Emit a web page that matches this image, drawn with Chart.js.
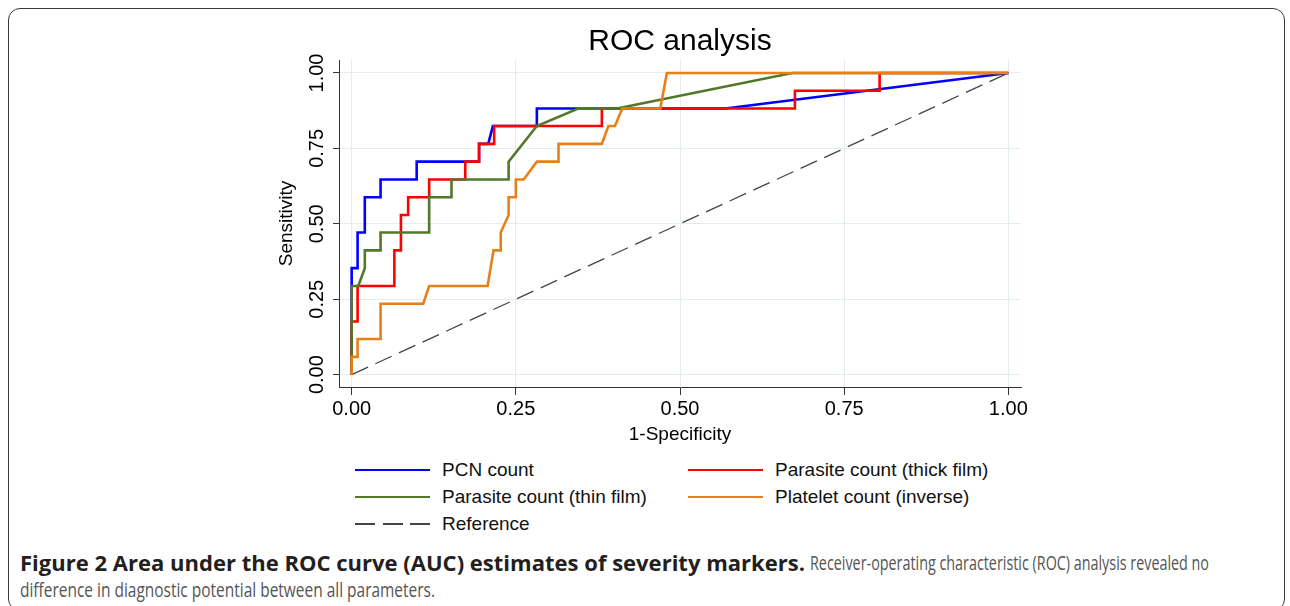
<!DOCTYPE html>
<html>
<head>
<meta charset="utf-8">
<title>ROC analysis</title>
<script src="https://cdn.jsdelivr.net/npm/chart.js@4.4.0/dist/chart.umd.min.js"></script>
<style>
  body { margin: 0; background: #fff; width: 1290px; height: 606px; overflow: hidden; position: relative;
         font-family: Arial, "Liberation Sans", sans-serif; }
  #frame { position: absolute; left: 8px; top: 8px; width: 1277px; height: 603px; box-sizing: border-box;
           border: 1.5px solid #3a3a3a; border-radius: 12px; }
  #chart { position: absolute; left: 0; top: 0; }
  .item { position: absolute; font-size: 19px; line-height: 22px; color: #111; white-space: nowrap; }
  .swatch { position: absolute; width: 75px; height: 2.5px; }
  .cap { position: absolute; font-family: "Open Sans", sans-serif; font-size: 20px; line-height: 24px;
         color: #555; white-space: nowrap; transform-origin: 0 50%; }
  .cap.bold { color: #231f20; font-weight: 700; font-size: 21px; }
</style>
</head>
<body>
<div id="frame"></div>
<canvas id="chart" width="1290" height="450"></canvas>
<div id="legend"></div>
<div class="cap bold" data-w="785" style="left:20px;top:551px">Figure 2 Area under the ROC curve (AUC) estimates of severity markers.</div>
<div class="cap" data-w="399" style="left:810px;top:551px">Receiver-operating characteristic (ROC) analysis revealed no</div>
<div class="cap" data-w="415" style="left:20px;top:578px">difference in diagnostic potential between all parameters.</div>
<script>
// 1-specificity / sensitivity vertices
const pcnX = [0, 0, 0.009, 0.009, 0.020, 0.020, 0.044, 0.044, 0.099, 0.099, 0.194, 0.194, 0.208, 0.215, 0.282, 0.282, 0.569, 1];
const pcnY = [0, 0.353, 0.353, 0.471, 0.471, 0.588, 0.588, 0.647, 0.647, 0.706, 0.706, 0.765, 0.765, 0.824, 0.824, 0.882, 0.882, 1];

const thickX = [0, 0, 0.009, 0.009, 0.065, 0.065, 0.075, 0.075, 0.086, 0.086, 0.118, 0.118, 0.173, 0.173, 0.194, 0.194, 0.217, 0.217, 0.381, 0.381, 0.675, 0.675, 0.804, 0.804, 1];
const thickY = [0, 0.176, 0.176, 0.294, 0.294, 0.412, 0.412, 0.529, 0.529, 0.588, 0.588, 0.647, 0.647, 0.706, 0.706, 0.765, 0.765, 0.824, 0.824, 0.882, 0.882, 0.941, 0.941, 1, 1];

const thinX = [0, 0, 0.010, 0.020, 0.020, 0.044, 0.044, 0.118, 0.118, 0.152, 0.152, 0.239, 0.239, 0.282, 0.345, 0.404, 0.671, 1];
const thinY = [0, 0.294, 0.294, 0.353, 0.412, 0.412, 0.471, 0.471, 0.588, 0.588, 0.647, 0.647, 0.706, 0.824, 0.882, 0.882, 1, 1];

const plateletX = [0, 0, 0.009, 0.009, 0.044, 0.044, 0.109, 0.118, 0.207, 0.216, 0.227, 0.227, 0.239, 0.239, 0.250, 0.250, 0.262, 0.282, 0.315, 0.315, 0.381, 0.391, 0.401, 0.412, 0.470, 0.480, 1];
const plateletY = [0, 0.059, 0.059, 0.118, 0.118, 0.235, 0.235, 0.294, 0.294, 0.412, 0.412, 0.471, 0.529, 0.588, 0.588, 0.647, 0.647, 0.706, 0.706, 0.765, 0.765, 0.824, 0.824, 0.882, 0.882, 1, 1];

const refX = [0, 1];
const refY = [0, 1];

const seriesNames = ['PCN count', 'Parasite count (thick film)', 'Parasite count (thin film)', 'Platelet count (inverse)', 'Reference'];
const seriesColors = ['#0000ff', '#ff0000', '#52782a', '#e8801a', '#444444'];

const xTicks = [0, 0.25, 0.5, 0.75, 1];
const yTicks = [0, 0.25, 0.5, 0.75, 1];

function pts(xs, ys) {
    return xs.map((x, i) => ({x: x, y: ys[i]}));
}

const curves = [[pcnX, pcnY], [thickX, thickY], [thinX, thinY], [plateletX, plateletY], [refX, refY]];
const drawOrder = [5, 4, 3, 2, 6];

Chart.defaults.font.family = 'Arial, "Liberation Sans", sans-serif';
Chart.defaults.color = '#000';

const datasets = curves.map((c, i) => ({
    label: seriesNames[i],
    data: pts(c[0], c[1]),
    showLine: true,
    borderColor: seriesColors[i],
    borderWidth: i === 4 ? 1.3 : 2.6,
    borderDash: i === 4 ? [18, 8] : [],
    pointRadius: 0,
    fill: false,
    tension: 0,
    order: drawOrder[i]
}));

const gridCol = '#e3edf0';

new Chart(document.getElementById('chart').getContext('2d'), {
    type: 'scatter',
    data: { datasets: datasets },
    options: {
        responsive: false,
        animation: false,
        layout: { padding: { left: 275, right: 269, top: 0, bottom: 4 } },
        plugins: {
            legend: { display: false },
            tooltip: { enabled: false },
            title: {
                display: true, text: 'ROC analysis', fullSize: false, color: '#000',
                font: { size: 30, weight: 'normal' }, padding: { top: 24, bottom: 0 }
            }
        },
        scales: {
            x: {
                type: 'linear', min: -0.0193, max: 1.0193,
                afterBuildTicks: s => { s.ticks = xTicks.map(v => ({value: v})); },
                afterFit: s => { s.height = 59; },
                ticks: { font: { size: 20 }, color: '#000', padding: 2, callback: v => v.toFixed(2) },
                grid: { color: gridCol, lineWidth: 1, tickColor: '#333', tickLength: 8 },
                border: { color: '#333', width: 1 },
                title: { display: true, text: '1-Specificity', font: { size: 19 }, color: '#000', padding: 0 }
            },
            y: {
                type: 'linear', min: -0.041, max: 1.043,
                afterBuildTicks: s => { s.ticks = yTicks.map(v => ({value: v})); },
                afterFit: s => { s.width = 64; },
                ticks: { font: { size: 20 }, color: '#000', padding: -4, minRotation: 90, maxRotation: 90,
                         crossAlign: 'center', callback: v => v.toFixed(2) },
                grid: { color: gridCol, lineWidth: 1, tickColor: '#333', tickLength: 6 },
                border: { color: '#333', width: 1 },
                title: { display: true, text: 'Sensitivity', font: { size: 19 }, color: '#000', padding: 0 }
            }
        }
    }
});

// legend: two columns, three rows
const legendPos = [[355, 470], [688, 470], [355, 497], [688, 497], [355, 524]];
const legend = document.getElementById('legend');
seriesNames.forEach((name, i) => {
    const [lx, ly] = legendPos[i];
    const sw = document.createElement('div');
    sw.className = 'swatch';
    sw.style.left = lx + 'px';
    if (i === 4) {
        sw.style.top = (ly - 0.75) + 'px';
        sw.style.height = '1.5px';
        sw.style.background = 'repeating-linear-gradient(to right, ' + seriesColors[i] + ' 0 20px, transparent 20px 27.5px)';
    } else {
        sw.style.top = (ly - 1.25) + 'px';
        sw.style.background = seriesColors[i];
    }
    legend.appendChild(sw);
    const t = document.createElement('div');
    t.className = 'item';
    t.textContent = name;
    t.style.left = (lx + 87) + 'px';
    t.style.top = (ly - 11) + 'px';
    legend.appendChild(t);
});

// squeeze each caption run to the narrow face of the original
document.querySelectorAll('.cap').forEach(el => {
    const k = Number(el.dataset.w) / el.getBoundingClientRect().width;
    el.style.transform = 'scaleX(' + k + ')';
});
</script>
</body>
</html>
